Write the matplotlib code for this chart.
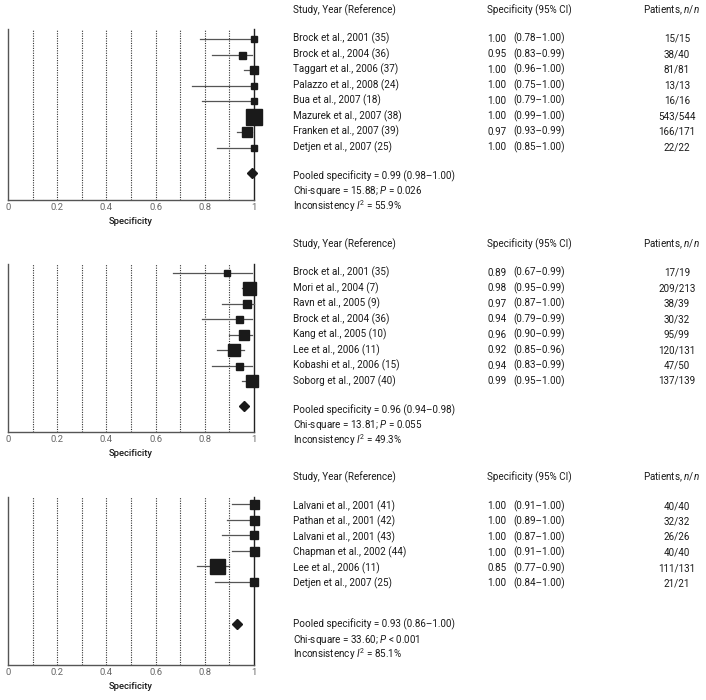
import numpy as np
import matplotlib.pyplot as plt
from matplotlib import transforms

plt.rcParams['font.family'] = ['Roboto', 'DejaVu Sans']
plt.rcParams['mathtext.fontset'] = 'custom'
plt.rcParams['mathtext.rm'] = 'Roboto'
plt.rcParams['mathtext.it'] = 'Roboto:italic'

# ---- data -------------------------------------------------------------
studies1 = ["Brock et al., 2001 (35)", "Brock et al., 2004 (36)",
            "Taggart et al., 2006 (37)", "Palazzo et al., 2008 (24)",
            "Bua et al., 2007 (18)", "Mazurek et al., 2007 (38)",
            "Franken et al., 2007 (39)", "Detjen et al., 2007 (25)"]
spec1 = [1.00, 0.95, 1.00, 1.00, 1.00, 1.00, 0.97, 1.00]
lo1 = [0.78, 0.83, 0.96, 0.75, 0.79, 0.99, 0.93, 0.85]
hi1 = [1.00, 0.99, 1.00, 1.00, 1.00, 1.00, 0.99, 1.00]
patients1 = ["15/15", "38/40", "81/81", "13/13", "16/16", "543/544",
             "166/171", "22/22"]
weights1 = [36, 49, 64, 36, 36, 256, 100, 36]
pooled1 = [0.99, 0.98, 1.00]
chi1, pval1, i2_1 = "15.88", "= 0.026", "55.9"

studies2 = ["Brock et al., 2001 (35)", "Mori et al., 2004 (7)",
            "Ravn et al., 2005 (9)", "Brock et al., 2004 (36)",
            "Kang et al., 2005 (10)", "Lee et al., 2006 (11)",
            "Kobashi et al., 2006 (15)", "Soborg et al., 2007 (40)"]
spec2 = [0.89, 0.98, 0.97, 0.94, 0.96, 0.92, 0.94, 0.99]
lo2 = [0.67, 0.95, 0.87, 0.79, 0.90, 0.85, 0.83, 0.95]
hi2 = [0.99, 0.99, 1.00, 0.99, 0.99, 0.96, 0.99, 1.00]
patients2 = ["17/19", "209/213", "38/39", "30/32", "95/99", "120/131",
             "47/50", "137/139"]
weights2 = [36, 169, 64, 49, 100, 144, 49, 144]
pooled2 = [0.96, 0.94, 0.98]
chi2, pval2, i2_2 = "13.81", "= 0.055", "49.3"

studies3 = ["Lalvani et al., 2001 (41)", "Pathan et al., 2001 (42)",
            "Lalvani et al., 2001 (43)", "Chapman et al., 2002 (44)",
            "Lee et al., 2006 (11)", "Detjen et al., 2007 (25)"]
spec3 = [1.00, 1.00, 1.00, 1.00, 0.85, 1.00]
lo3 = [0.91, 0.89, 0.87, 0.91, 0.77, 0.84]
hi3 = [1.00, 1.00, 1.00, 1.00, 0.90, 1.00]
patients3 = ["40/40", "32/32", "26/26", "40/40", "111/131", "21/21"]
weights3 = [81, 81, 64, 81, 225, 64]
pooled3 = [0.93, 0.86, 1.00]
chi3, pval3, i2_3 = "33.60", "< 0.001", "85.1"

xticks = [0, 0.2, 0.4, 0.6, 0.8, 1.0]
xticklabels = ["0", "0.2", "0.4", "0.6", "0.8", "1"]
gridx = [0.1, 0.2, 0.3, 0.4, 0.5, 0.6, 0.7, 0.8, 0.9]

# ---- layout (pixels) --------------------------------------------------
W, H = 706, 700
# axes top, axes bottom, first marker y, first text baseline, row step,
# header baseline, pooled text baseline, diamond y
layouts = [(29, 200, 39.0, 41.7, 15.5, 13.3, 179.0, 173.0),
           (264, 432, 273.0, 275.7, 15.47, 247.0, 413.0, 406.0),
           (497, 665, 504.3, 509.0, 15.5, 480.0, 627.3, 624.3)]

fig = plt.figure(figsize=(W / 100, H / 100), dpi=100)
renderer = fig.canvas.get_renderer()


def fit_size(s, target_px, size0=7.2, **kw):
    """font size at which the string s is target_px wide"""
    t = fig.text(0, 0, s, fontsize=size0, **kw)
    w = t.get_window_extent(renderer).width
    t.remove()
    return size0 * target_px / w


FS = fit_size("Brock et al., 2001 (35)", 96)
XL = fit_size("Specificity", 44, fontweight="medium")


def draw_panel(lay, studies, spec, lo, hi, patients, weights, pooled,
               chi, pval, i2):
    top, bot, mark0, base0, step, head_b, pool_b, dia_y = lay
    ax = fig.add_axes([8 / W, 1 - bot / H, 246 / W, (bot - top) / H])
    ax.set_xlim(0, 1)
    # y axis in pixels measured from the top of the page
    ax.set_ylim(bot, top)

    for g in gridx:
        ax.axvline(g, ls=(0, (1, 1.2)), lw=0.8, color="#333333")

    ax.spines["top"].set_visible(False)
    for s in ["left", "right", "bottom"]:
        ax.spines[s].set_color("#555555")
        ax.spines[s].set_linewidth(1.0)
    ax.spines["right"].set_color("#222222")

    ax.set_yticks([])
    ax.set_xticks(xticks)
    ax.set_xticklabels(xticklabels)
    ax.tick_params(axis="x", length=0, pad=2.5, labelsize=6.8,
                   labelcolor="#666666")
    ax.set_xlabel("Specificity", fontsize=XL, fontweight="medium",
                  labelpad=3, color="#1a1a1a")

    idx = np.arange(len(studies))
    ym = mark0 + step * idx
    for y, e, l, h, w in zip(ym, spec, lo, hi, weights):
        ax.plot([l, h], [y, y], color="#555555", lw=0.9, clip_on=False, zorder=3)
        ax.plot(e, y, marker="s", ms=np.sqrt(w) * 0.72, color="#1a1a1a",
                mec="#1a1a1a", clip_on=False, zorder=4)
    ax.plot(pooled[0], dia_y, marker="D", ms=5.5, color="#1a1a1a",
            clip_on=False, zorder=4)

    # text columns
    tr = transforms.blended_transform_factory(fig.transFigure, ax.transData)
    kw = dict(transform=tr, fontsize=FS, va="baseline", color="#1a1a1a")
    ax.text(293 / W, head_b, "Study, Year (Reference)", **kw)
    ax.text(487 / W, head_b, "Specificity (95% CI)", **kw)
    ax.text(700 / W, head_b, "Patients, $n/n$", ha="right", **kw)
    yt = base0 + step * idx
    for y, name, e, l, h, p in zip(yt, studies, spec, lo, hi, patients):
        ax.text(293 / W, y, name, **kw)
        ax.text(487 / W, y, f"{e:.2f}", **kw)
        ax.text(513 / W, y, f"({l:.2f}\u2013{h:.2f})", **kw)
        ax.text(677 / W, y, p, ha="center", **kw)
    ax.text(293 / W, pool_b,
            f"Pooled specificity = {pooled[0]:.2f} ({pooled[1]:.2f}\u2013{pooled[2]:.2f})",
            **kw)
    ax.text(293 / W, pool_b + step, f"Chi-square = {chi}; $P$ {pval}", **kw)
    ax.text(293 / W, pool_b + 2 * step, f"Inconsistency $I^{{2}}$ = {i2}%", **kw)
    return ax


draw_panel(layouts[0], studies1, spec1, lo1, hi1, patients1, weights1,
           pooled1, chi1, pval1, i2_1)
draw_panel(layouts[1], studies2, spec2, lo2, hi2, patients2, weights2,
           pooled2, chi2, pval2, i2_2)
draw_panel(layouts[2], studies3, spec3, lo3, hi3, patients3, weights3,
           pooled3, chi3, pval3, i2_3)

fig.savefig("out.png", dpi=100)
